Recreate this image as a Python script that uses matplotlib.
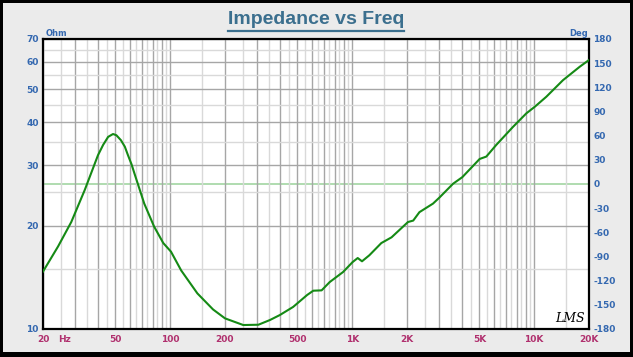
import numpy as np
import matplotlib
matplotlib.use("Agg")
import matplotlib.pyplot as plt
from matplotlib.ticker import FixedLocator, FuncFormatter, NullFormatter
from matplotlib.patches import Rectangle
from matplotlib.lines import Line2D

plt.rcParams["axes.unicode_minus"] = False

# ---- data ----
freq_hz = [20, 24.2, 28.6, 33.9, 40.1, 42.8, 45.6, 48.5, 50.6, 53.6, 56.3, 58.6, 61.3, 63.6,
           72, 81.5, 91.6, 101, 115, 141, 172, 200, 252, 305, 353, 400, 474, 565, 611,
           679, 752, 891, 1005, 1072, 1132, 1242, 1445, 1645, 2025, 2164, 2340, 2780,
           3025, 3580, 4027, 5015, 5455, 6190, 7640, 9050, 10060, 11650, 14390, 17780, 20000]
impedance_ohm = [14.7, 17.4, 20.5, 25.4, 32.1, 34.4, 36.3, 37.0, 36.7, 35.5, 34.0, 32.1, 30.2, 28.4,
                 23.2, 19.9, 17.8, 16.8, 14.8, 12.7, 11.4, 10.74, 10.27, 10.29, 10.62, 10.98, 11.6, 12.56, 12.93,
                 12.96, 13.7, 14.66, 15.67, 16.1, 15.75, 16.4, 17.8, 18.5, 20.5, 20.7, 21.9, 23.2,
                 24.2, 26.5, 27.7, 31.3, 31.8, 34.4, 38.8, 42.5, 44.4, 47.5, 53.1, 58.1, 60.8]
phase_ref_deg = 0

x_label_vals = [20, 50, 100, 200, 500, 1000, 2000, 5000, 10000, 20000]
x_label_txt = ["20", "50", "100", "200", "500", "1K", "2K", "5K", "10K", "20K"]
y_ticks = [10, 20, 30, 40, 50, 60, 70]
phase_ticks = list(range(-180, 181, 30))

W, H = 633, 357
fig = plt.figure(figsize=(W / 100, H / 100), dpi=100)
fig.patch.set_facecolor("black")
fig.add_artist(Rectangle((3 / W, 1 - 352 / H), 627 / W, 349 / H, transform=fig.transFigure,
                         facecolor="#ebebeb", edgecolor="none", zorder=0))

l, r, t, b = 43, 589, 39, 329
ax = fig.add_axes([l / W, 1 - b / H, (r - l) / W, (b - t) / H])
ax.set_facecolor("white")
ax.set_xscale("log")
ax.set_yscale("log")
ax.set_xlim(20, 20000)
ax.set_ylim(10, 70)

# grid positions
dec = [10, 100, 1000, 10000]
major_x = [d * k for d in dec for k in range(1, 10) if 20 <= d * k <= 20000]
minor_x = [d * (k + 0.5) for d in dec for k in range(1, 10) if 20 <= d * (k + 0.5) <= 20000]
ax.xaxis.set_major_locator(FixedLocator(major_x))
ax.xaxis.set_minor_locator(FixedLocator(minor_x))
lab = dict(zip(x_label_vals, x_label_txt))
ax.xaxis.set_major_formatter(FuncFormatter(lambda v, p: lab.get(int(round(v)), "")))
ax.xaxis.set_minor_formatter(NullFormatter())

ax.yaxis.set_major_locator(FixedLocator(y_ticks))
ax.yaxis.set_minor_locator(FixedLocator([15, 25, 35, 45, 55, 65]))
ax.yaxis.set_major_formatter(FuncFormatter(lambda v, p: f"{int(round(v))}"))
ax.yaxis.set_minor_formatter(NullFormatter())

ax.grid(which="major", color="#a6a6a6", linewidth=1.0)
ax.grid(which="minor", color="#d9d9d9", linewidth=1.0)
ax.set_axisbelow(True)

ax.tick_params(axis="both", which="both", length=0)
ax.tick_params(axis="x", which="major", pad=4, labelsize=6.5, labelcolor="#b0306e")
ax.tick_params(axis="y", which="major", pad=3, labelsize=6.5, labelcolor="#3468b0")
for lbl in ax.get_xticklabels() + ax.get_yticklabels():
    lbl.set_fontweight("bold")
for s in ax.spines.values():
    s.set_linewidth(1.6)
    s.set_color("black")

ax2 = ax.twinx()
ax2.set_ylim(-180, 180)
ax2.set_yticks(phase_ticks)
ax2.tick_params(axis="y", length=0, pad=3, labelsize=6.5, labelcolor="#3468b0")
for lbl in ax2.get_yticklabels():
    lbl.set_fontweight("bold")
for s in ax2.spines.values():
    s.set_visible(False)
ax2.axhline(phase_ref_deg, color="#a9d9a9", linewidth=1.3, zorder=1)

ax.plot(freq_hz, impedance_ohm, color="#158a15", linewidth=1.5, zorder=5)
ax.set_zorder(ax2.get_zorder() + 1)
ax.patch.set_visible(False)
ax2.patch.set_visible(True)
ax2.patch.set_facecolor("white")

fig.text(58 / W, 1 - 339 / H, "Hz", color="#b0306e", fontsize=6.5, fontweight="bold",
         ha="left", va="center")
fig.text(46 / W, 1 - 33 / H, "Ohm", color="#3468b0", fontsize=6, fontweight="bold",
         ha="left", va="center")
fig.text(588 / W, 1 - 33 / H, "Deg", color="#3468b0", fontsize=6, fontweight="bold",
         ha="right", va="center")
fig.text(570 / W, 1 - 318 / H, "LMS", color="black", fontsize=9, style="italic",
         family="DejaVu Serif", ha="center", va="center")

title = fig.text(316 / W, 1 - 20 / H, "Impedance vs Freq", color="#3b6f8e", fontsize=14,
                 fontweight="bold", family="Liberation Sans", ha="center", va="center")
fig.canvas.draw()
bb = title.get_window_extent()
uy = 1 - 31 / H
fig.add_artist(Line2D([bb.x0 / W, bb.x1 / W], [uy, uy], transform=fig.transFigure,
                      color="#3b6f8e", linewidth=1.6))

fig.savefig("out.png", dpi=100, facecolor=fig.get_facecolor())
